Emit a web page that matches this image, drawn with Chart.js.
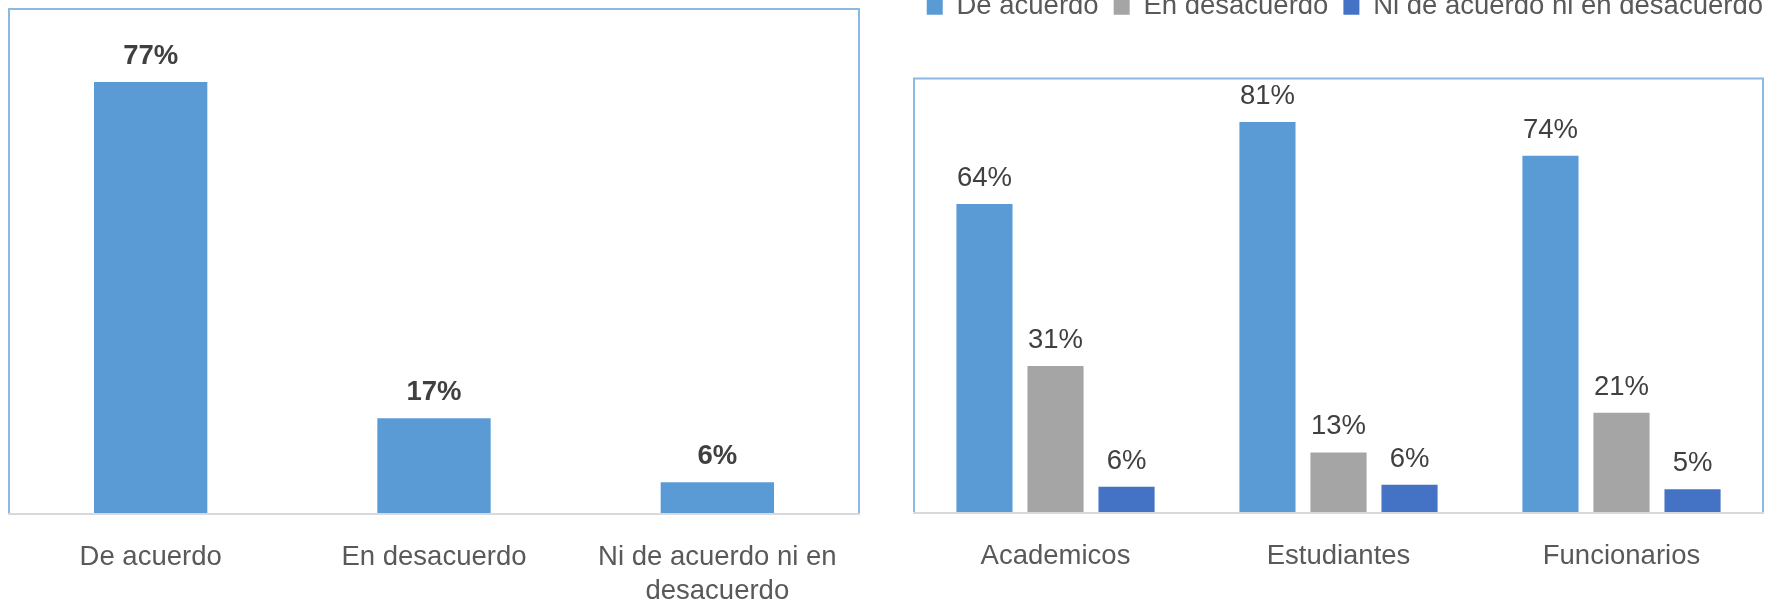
<!DOCTYPE html>
<html>
<head>
<meta charset="utf-8">
<script src="https://cdn.jsdelivr.net/npm/chart.js@4.4.1/dist/chart.umd.min.js"></script>
<style>
  html, body { margin: 0; padding: 0; background: #fff; overflow: hidden; }
  body { width: 1778px; height: 601px; position: relative; }
  #left-wrap { position: absolute; left: 0; top: 0; width: 880px; height: 635px; }
  #right-wrap { position: absolute; left: 880px; top: -22px; width: 898px; height: 622px; }
</style>
</head>
<body>
<div id="left-wrap"><canvas id="total-chart"></canvas></div>
<div id="right-wrap"><canvas id="group-chart"></canvas></div>
<script>
// left chart: overall answers
const totalCategories = ['De acuerdo', 'En desacuerdo', ['Ni de acuerdo ni en', 'desacuerdo']];
const totalValues = [77, 17, 5.6];

// right chart: answers by group
const groupCategories = ['Academicos', 'Estudiantes', 'Funcionarios'];
const seriesNames = ['De acuerdo', 'En desacuerdo', 'Ni de acuerdo ni en desacuerdo'];
const deAcuerdo = [64, 81, 74];
const enDesacuerdo = [30.5, 12.6, 20.8];
const niDeAcuerdo = [5.5, 5.9, 5.0];

const yMax = 90;
const colors = ['#5b9bd5', '#a5a5a5', '#4472c4'];
const fontFamily = "'Liberation Sans', Arial, sans-serif";

// blue border on the left, top and right of the plot area (bottom is the axis line)
const frame = {
    id: 'frame',
    beforeDatasetsDraw(chart) {
        const a = chart.chartArea;
        const ctx = chart.ctx;
        ctx.save();
        ctx.strokeStyle = '#8db8e3';
        ctx.lineWidth = 2;
        ctx.beginPath();
        ctx.moveTo(a.left, a.bottom);
        ctx.lineTo(a.left, a.top);
        ctx.lineTo(a.right, a.top);
        ctx.lineTo(a.right, a.bottom);
        ctx.stroke();
        ctx.restore();
    }
};

// percentage above each bar
const valueLabels = {
    id: 'valueLabels',
    afterDatasetsDraw(chart, args, opts) {
        const ctx = chart.ctx;
        ctx.save();
        ctx.font = (opts.weight || 'normal') + ' 27.5px ' + fontFamily;
        ctx.fillStyle = '#404040';
        ctx.textAlign = 'center';
        ctx.textBaseline = 'alphabetic';
        chart.data.datasets.forEach((ds, i) => {
            chart.getDatasetMeta(i).data.forEach((bar, j) => {
                ctx.fillText(Math.round(ds.data[j]) + '%', bar.x, bar.y - 18);
            });
        });
        ctx.restore();
    }
};

// extra room under the legend
const legendGap = {
    id: 'legendGap',
    beforeInit(chart) {
        if (!chart.legend) return;
        const fit = chart.legend.fit;
        chart.legend.fit = function () {
            fit.bind(chart.legend)();
            this.height += 48;
        };
    }
};

function xAxis() {
    return {
        grid: { display: false, drawTicks: false },
        border: { color: '#d9d9d9', width: 2, z: 1 },
        ticks: {
            color: '#595959',
            padding: 26,
            maxRotation: 0,
            autoSkip: false,
            font: { family: fontFamily, size: 27.5, lineHeight: 1.26 }
        }
    };
}

// empty axis used only to reserve space beside the plot
function spacer(position, width) {
    return {
        position: position,
        min: 0,
        max: yMax,
        grid: { display: false, drawTicks: false },
        border: { display: false },
        ticks: { display: false },
        afterFit(scale) { scale.width = width; }
    };
}

new Chart(document.getElementById('total-chart'), {
    type: 'bar',
    data: {
        labels: totalCategories,
        datasets: [{
            data: totalValues,
            backgroundColor: colors[0],
            categoryPercentage: 0.5,
            barPercentage: 0.8
        }]
    },
    options: {
        responsive: true,
        maintainAspectRatio: false,
        animation: false,
        layout: { padding: { left: 9, top: 9, right: 21, bottom: 0 } },
        plugins: {
            legend: { display: false },
            tooltip: { enabled: false },
            valueLabels: { weight: 'bold' }
        },
        scales: {
            x: xAxis(),
            y: { display: false, min: 0, max: yMax }
        }
    },
    plugins: [frame, valueLabels]
});

new Chart(document.getElementById('group-chart'), {
    type: 'bar',
    data: {
        labels: groupCategories,
        datasets: [
            { label: seriesNames[0], data: deAcuerdo, backgroundColor: colors[0] },
            { label: seriesNames[1], data: enDesacuerdo, backgroundColor: colors[1] },
            { label: seriesNames[2], data: niDeAcuerdo, backgroundColor: colors[2] }
        ]
    },
    options: {
        responsive: true,
        maintainAspectRatio: false,
        animation: false,
        layout: { padding: 0 },
        datasets: { bar: { categoryPercentage: 0.753, barPercentage: 0.79 } },
        plugins: {
            legend: {
                position: 'top',
                align: 'end',
                labels: {
                    boxWidth: 16,
                    boxHeight: 16,
                    padding: 15,
                    color: '#595959',
                    font: { family: fontFamily, size: 27.5 }
                }
            },
            tooltip: { enabled: false },
            valueLabels: { weight: 'normal' }
        },
        scales: {
            x: xAxis(),
            y: spacer('left', 34),
            yRight: spacer('right', 15)
        }
    },
    plugins: [frame, valueLabels, legendGap]
});
</script>
</body>
</html>
